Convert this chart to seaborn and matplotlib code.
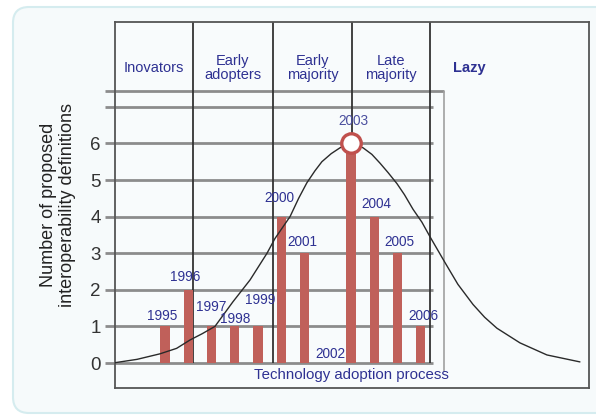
import matplotlib
matplotlib.use("Agg")
import matplotlib.pyplot as plt
import matplotlib.transforms as mtransforms
from matplotlib.patches import FancyBboxPatch
import pandas as pd
import seaborn as sns

# 연도별 제안된 정의 수
years = [1995, 1996, 1997, 1998, 1999, 2000, 2001, 2002, 2003, 2004, 2005, 2006]
counts = [1, 2, 1, 1, 1, 4, 3, 0, 6, 4, 3, 1]

# 기술 수용 곡선 (그림에서 읽은 점)
curve_x = [1992.76, 1993.8, 1994.78, 1995.5, 1996.08, 1996.6, 1997.15, 1997.92, 1998.66,
           1999.39, 1999.73, 2000.38, 2000.75, 2001.10, 2001.45, 2001.75, 2002.15,
           2002.53, 2003.00, 2003.52, 2003.9, 2004.25, 2004.6, 2004.98, 2005.3,
           2005.67, 2006.05, 2006.40, 2007.04, 2007.6, 2008.25, 2008.75, 2009.28,
           2010.27, 2011.43, 2012.85]
curve_y = [0.0, 0.1, 0.25, 0.4, 0.63, 0.8, 1.0, 1.67, 2.27,
           3.0, 3.4, 4.0, 4.5, 4.92, 5.25, 5.5, 5.72,
           5.88, 6.0, 5.88, 5.7, 5.46, 5.2, 4.9, 4.6,
           4.2, 3.85, 3.45, 2.75, 2.15, 1.6, 1.25, 0.95,
           0.55, 0.22, 0.03]

# 수용 단계
phases = ["Inovators", "Early\nadopters", "Early\nmajority", "Late\nmajority", "Lazy"]
phase_bounds = [1992.85, 1996.2, 1999.65, 2003.04, 2006.4, 2013.24]

# 라벨 위치 조정값 (레이아웃)
label_dy = [0.28, 0.35, 0.53, 0.2, 0.72, 0.5, 0.3, 0.25, 0.6, 0.34, 0.3, 0.28]
label_dx = [-0.1, -0.15, 0.0, 0.0, 0.1, -0.1, -0.1, 0.1, 0.1, 0.1, 0.1, 0.1]

bar_df = pd.DataFrame({"year": years, "count": counts})
curve_df = pd.DataFrame({"x": curve_x, "y": curve_y})

sns.set_style("white")
plt.rcParams['font.family'] = ['Liberation Sans', 'DejaVu Sans']

navy = "#2e3192"
bar_color = "#c0605a"
grid_color = "#8c8c8c"

fig = plt.figure(figsize=(5.96, 4.16), dpi=100)
fig.patch.set_facecolor("white")

# 둥근 배경 상자
bg = FancyBboxPatch((13, 3), 600, 406, boxstyle="round,pad=0,rounding_size=16",
                    transform=mtransforms.IdentityTransform(),
                    facecolor="#f6fafb", edgecolor="#d5ecef", linewidth=1.5, zorder=-10)
fig.patches.append(bg)

ax = fig.add_axes([115 / 596, 28 / 416, 474 / 596, 366 / 416])
ax.set_facecolor("#f8fbfc")
ax.set_xlim(1992.85, 2013.24)
ax.set_ylim(-0.683, 9.317)

# 가로 격자선
for yv in range(0, 8):
    ax.hlines(yv, 1992.85, 2006.53, color=grid_color, linewidth=2, zorder=1)
ax.hlines(7.43, 1992.85, 2007.0, color=grid_color, linewidth=2, zorder=1)
ax.vlines(2007.0, -0.25, 7.43, color="#a0a0a0", linewidth=1.2, zorder=1)

# 단계 구분선
for b in phase_bounds[1:-1]:
    ax.vlines(b, 0, 9.317, color="#333333", linewidth=1.3, zorder=2)

# 막대
sns.barplot(data=bar_df, x="year", y="count", native_scale=True, width=0.4,
            color=bar_color, saturation=1, edgecolor="none", ax=ax, zorder=3)

# 곡선
sns.lineplot(data=curve_df, x="x", y="y", color="#2a2a2a", linewidth=1, ax=ax, zorder=4)

# 정점 표시
ax.plot([2003], [6], marker="o", markersize=14, markerfacecolor="white",
        markeredgecolor="#c0504d", markeredgewidth=2.4, zorder=5, clip_on=False)

# 연도 라벨
for yr, c, dx, dy in zip(years, counts, label_dx, label_dy):
    ax.text(yr + dx, c + dy, str(yr), ha="center", va="center", fontsize=9.8,
            color=navy if yr != 2003 else "#4a4e9e", zorder=6)

# 단계 이름
for i, name in enumerate(phases):
    if name == "Lazy":
        ax.text(2008.1, 8.06, name, ha="center", va="center", fontsize=10.5,
                color=navy, fontweight="bold")
    else:
        cx = (phase_bounds[i] + phase_bounds[i + 1]) / 2
        ax.text(cx, 8.06, name, ha="center", va="center", fontsize=10.5,
                color=navy, linespacing=1.05)

ax.text(2003.0, -0.33, "Technology adoption process", ha="center", va="center",
        fontsize=10.8, color=navy, zorder=6)

ax.set_xticks([])
ax.set_yticks([0, 1, 2, 3, 4, 5, 6, 7, 7.43])
ax.set_yticklabels(["0", "1", "2", "3", "4", "5", "6", "", ""])
ax.tick_params(axis="y", length=7.2, width=2, color=grid_color, pad=3,
               labelsize=13.5, labelcolor="#333333", left=True)
ax.set_xlabel("")
ax.set_ylabel("Number of proposed\ninteroperability definitions", fontsize=13,
              color="#222222", labelpad=10, linespacing=1.2)

for s in ax.spines.values():
    s.set_color("#555555")
    s.set_linewidth(1.3)
    s.set_visible(True)

fig.savefig("out.png", dpi=100)
